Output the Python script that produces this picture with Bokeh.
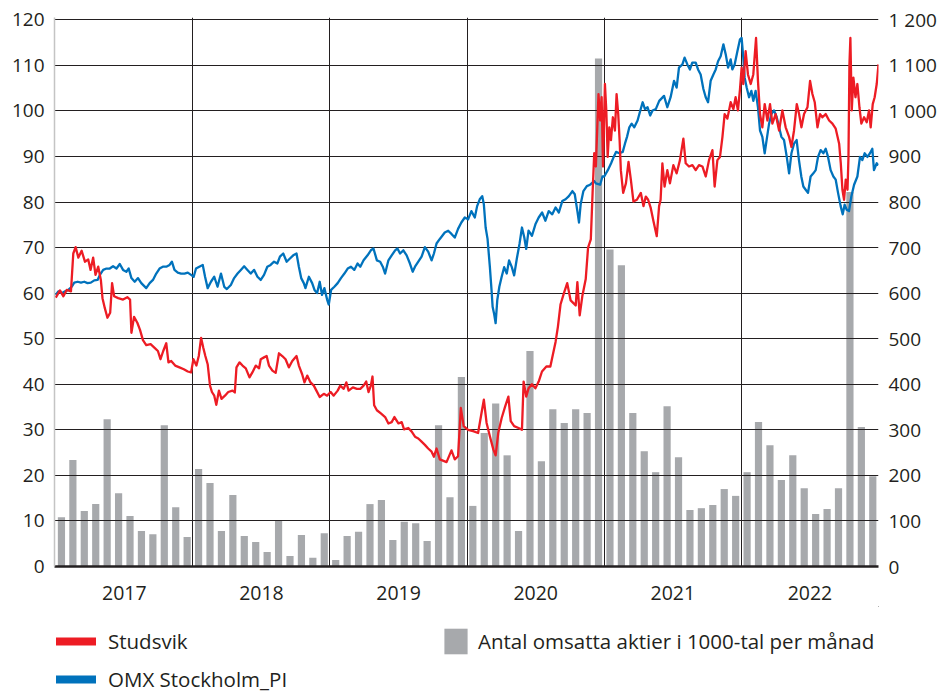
from bokeh.plotting import figure
from bokeh.layouts import column
from bokeh.models import Range1d, LinearAxis, FixedTicker, Legend, LegendItem
from bokeh.embed import file_html
from bokeh.resources import INLINE

# ---------------- data ----------------
years = [2017, 2018, 2019, 2020, 2021, 2022]

# monthly traded shares (thousands), Jan 2017 .. Dec 2022
volume_k = [
    108, 234, 122, 137, 323, 161, 111, 78, 71, 310, 130, 65,
    214, 183, 78, 157, 67, 54, 32, 100, 23, 69, 19, 73,
    14, 67, 76, 137, 146, 58, 98, 95, 56, 310, 152, 416,
    133, 293, 358, 244, 78, 473, 231, 345, 315, 345, 337, 1115,
    696, 661, 337, 253, 207, 352, 240, 124, 128, 135, 170, 155,
    207, 317, 266, 190, 244, 172, 115, 126, 172, 822, 306, 198,
]

# Studsvik (decimal year, index value)
studsvik_t = [
    2017.000, 2017.031, 2017.056, 2017.080, 2017.111, 2017.128, 2017.145, 2017.165, 2017.189, 2017.213,
    2017.237, 2017.254, 2017.273, 2017.290, 2017.310, 2017.329, 2017.341, 2017.358, 2017.377, 2017.397,
    2017.411, 2017.426, 2017.455, 2017.491, 2017.522, 2017.542, 2017.552, 2017.571, 2017.595, 2017.614,
    2017.636, 2017.660, 2017.692, 2017.721, 2017.745, 2017.764, 2017.784, 2017.806, 2017.822, 2017.842,
    2017.871, 2017.902, 2017.934, 2017.963, 2017.987, 2018.004, 2018.026, 2018.043, 2018.060, 2018.076,
    2018.091, 2018.108, 2018.125, 2018.139, 2018.156, 2018.171, 2018.190, 2018.209, 2018.234, 2018.258,
    2018.289, 2018.306, 2018.318, 2018.340, 2018.362, 2018.386, 2018.413, 2018.434, 2018.459, 2018.483,
    2018.495, 2018.519, 2018.538, 2018.555, 2018.580, 2018.604, 2018.628, 2018.652, 2018.676, 2018.700,
    2018.725, 2018.756, 2018.773, 2018.797, 2018.814, 2018.834, 2018.858, 2018.882, 2018.901, 2018.925,
    2018.955, 2018.979, 2019.005, 2019.027, 2019.056, 2019.075, 2019.100, 2019.119, 2019.136, 2019.167,
    2019.196, 2019.221, 2019.245, 2019.264, 2019.281, 2019.298, 2019.310, 2019.322, 2019.342, 2019.371,
    2019.402, 2019.426, 2019.450, 2019.470, 2019.499, 2019.523, 2019.540, 2019.571, 2019.596, 2019.620,
    2019.644, 2019.668, 2019.692, 2019.716, 2019.741, 2019.758, 2019.777, 2019.801, 2019.850, 2019.886,
    2019.910, 2019.934, 2019.954, 2019.975, 2020.007, 2020.044, 2020.080, 2020.105, 2020.122, 2020.142,
    2020.166, 2020.191, 2020.208, 2020.227, 2020.252, 2020.277, 2020.301, 2020.318, 2020.343, 2020.375,
    2020.400, 2020.412, 2020.431, 2020.448, 2020.473, 2020.498, 2020.522, 2020.546, 2020.578, 2020.607,
    2020.645, 2020.662, 2020.681, 2020.706, 2020.730, 2020.755, 2020.792, 2020.804, 2020.821, 2020.841,
    2020.865, 2020.882, 2020.902, 2020.915, 2020.927, 2020.939, 2020.951, 2020.958, 2020.970, 2020.981,
    2020.991, 2021.005, 2021.015, 2021.025, 2021.037, 2021.049, 2021.063, 2021.078, 2021.090, 2021.102,
    2021.112, 2021.121, 2021.138, 2021.158, 2021.177, 2021.194, 2021.213, 2021.238, 2021.267, 2021.286,
    2021.303, 2021.320, 2021.339, 2021.359, 2021.383, 2021.400, 2021.411, 2021.424, 2021.440, 2021.460,
    2021.479, 2021.504, 2021.528, 2021.552, 2021.577, 2021.594, 2021.618, 2021.643, 2021.667, 2021.691,
    2021.716, 2021.740, 2021.764, 2021.789, 2021.805, 2021.825, 2021.844, 2021.862, 2021.878, 2021.898,
    2021.922, 2021.942, 2021.958, 2021.975, 2021.990, 2022.002, 2022.014, 2022.031, 2022.048, 2022.068,
    2022.087, 2022.107, 2022.121, 2022.136, 2022.153, 2022.170, 2022.190, 2022.209, 2022.226, 2022.250,
    2022.275, 2022.299, 2022.323, 2022.348, 2022.365, 2022.384, 2022.404, 2022.421, 2022.438, 2022.457,
    2022.482, 2022.501, 2022.518, 2022.535, 2022.555, 2022.574, 2022.591, 2022.615, 2022.640, 2022.664,
    2022.688, 2022.713, 2022.725, 2022.737, 2022.749, 2022.761, 2022.774, 2022.781, 2022.788, 2022.795,
    2022.805, 2022.817, 2022.832, 2022.846, 2022.861, 2022.875, 2022.895, 2022.914, 2022.931, 2022.943,
    2022.958, 2022.972, 2022.987, 2023.000,
]
studsvik_v = [
    59.0, 60.6, 59.3, 60.7, 60.4, 68.7, 70.1, 67.8, 69.3, 66.9,
    67.4, 65.1, 67.8, 64.0, 65.8, 62.9, 58.9, 56.7, 54.6, 55.7,
    62.2, 59.3, 58.9, 58.6, 59.1, 58.6, 51.3, 54.8, 53.5, 52.0,
    49.7, 48.6, 48.8, 48.0, 47.3, 45.5, 47.3, 49.0, 44.8, 45.1,
    44.1, 43.7, 43.3, 42.8, 42.6, 45.5, 44.1, 46.2, 50.2, 48.0,
    46.2, 44.4, 39.7, 38.3, 37.5, 35.5, 38.6, 36.8, 37.5, 38.3,
    38.6, 38.2, 43.7, 44.8, 44.1, 43.5, 41.5, 42.6, 44.1, 43.5,
    45.5, 45.9, 46.2, 44.1, 43.0, 42.5, 46.8, 46.2, 45.5, 43.7,
    45.1, 46.2, 44.1, 42.2, 40.4, 41.9, 40.4, 39.7, 38.6, 37.2,
    37.9, 37.5, 38.3, 37.5, 38.6, 39.7, 39.0, 40.4, 38.6, 39.3,
    39.0, 39.0, 39.7, 40.6, 38.3, 39.7, 41.7, 35.4, 34.3, 33.6,
    32.8, 31.4, 31.7, 32.8, 31.4, 31.7, 30.1, 30.4, 29.6, 28.5,
    28.1, 27.4, 26.7, 25.9, 25.2, 24.1, 25.9, 23.5, 22.9, 25.5,
    23.5, 24.2, 34.8, 30.8, 30.0, 29.7, 29.3, 33.7, 36.6, 31.5,
    28.6, 25.7, 24.4, 29.3, 32.6, 35.1, 37.3, 31.9, 30.8, 30.4,
    30.0, 40.6, 37.3, 39.1, 40.0, 39.1, 40.6, 42.8, 43.9, 43.9,
    49.3, 52.6, 57.5, 60.0, 62.2, 58.4, 57.3, 62.4, 55.1, 59.5,
    63.1, 70.0, 71.8, 82.0, 90.7, 87.8, 97.9, 103.7, 97.9, 103.0,
    87.8, 105.9, 100.1, 89.9, 96.4, 93.6, 98.6, 95.7, 103.7, 99.3,
    93.6, 87.0, 82.0, 84.1, 88.8, 84.9, 80.1, 80.5, 82.0, 79.1,
    81.2, 80.5, 78.7, 75.8, 72.5, 79.1, 80.5, 88.5, 83.4, 87.0,
    84.1, 88.1, 86.3, 89.2, 93.9, 88.5, 87.8, 88.1, 87.0, 88.1,
    87.8, 85.6, 89.2, 91.4, 83.4, 89.2, 89.9, 94.3, 99.3, 98.3,
    101.9, 100.4, 103.0, 100.1, 104.8, 109.5, 105.9, 113.1, 108.0, 105.9,
    108.0, 116.0, 106.6, 99.3, 96.4, 101.5, 97.9, 101.5, 97.2, 99.3,
    95.7, 100.1, 96.4, 94.3, 92.1, 95.7, 101.5, 99.3, 96.4, 99.3,
    100.8, 106.6, 103.7, 101.9, 96.4, 99.3, 98.6, 99.3, 97.9, 97.2,
    96.1, 92.8, 88.5, 82.7, 80.5, 84.9, 82.7, 89.9, 110.2, 116.0,
    100.1, 107.3, 103.0, 105.9, 100.8, 97.2, 98.6, 97.5, 100.1, 96.4,
    101.5, 103.0, 105.9, 110.2,
]

# OMX Stockholm_PI (decimal year, index value)
omx_t = [
    2017.000, 2017.019, 2017.044, 2017.068, 2017.092, 2017.116, 2017.135, 2017.160, 2017.184, 2017.208,
    2017.232, 2017.256, 2017.281, 2017.305, 2017.322, 2017.346, 2017.370, 2017.394, 2017.418, 2017.443,
    2017.467, 2017.491, 2017.515, 2017.532, 2017.552, 2017.576, 2017.600, 2017.624, 2017.660, 2017.685,
    2017.709, 2017.733, 2017.757, 2017.781, 2017.806, 2017.830, 2017.847, 2017.866, 2017.890, 2017.914,
    2017.939, 2017.963, 2017.987, 2018.006, 2018.023, 2018.047, 2018.072, 2018.089, 2018.108, 2018.132,
    2018.156, 2018.180, 2018.205, 2018.229, 2018.248, 2018.277, 2018.301, 2018.326, 2018.350, 2018.374,
    2018.398, 2018.422, 2018.447, 2018.471, 2018.495, 2018.519, 2018.543, 2018.567, 2018.592, 2018.616,
    2018.635, 2018.659, 2018.684, 2018.708, 2018.732, 2018.756, 2018.773, 2018.790, 2018.809, 2018.821,
    2018.846, 2018.870, 2018.887, 2018.906, 2018.925, 2018.942, 2018.959, 2018.979, 2018.991, 2019.008,
    2019.032, 2019.056, 2019.080, 2019.105, 2019.129, 2019.153, 2019.177, 2019.201, 2019.221, 2019.245,
    2019.274, 2019.298, 2019.317, 2019.342, 2019.366, 2019.385, 2019.402, 2019.426, 2019.450, 2019.475,
    2019.492, 2019.511, 2019.535, 2019.559, 2019.583, 2019.603, 2019.620, 2019.644, 2019.668, 2019.692,
    2019.716, 2019.741, 2019.758, 2019.777, 2019.801, 2019.837, 2019.862, 2019.886, 2019.910, 2019.934,
    2019.958, 2019.983, 2020.007, 2020.031, 2020.056, 2020.073, 2020.092, 2020.110, 2020.122, 2020.135,
    2020.149, 2020.166, 2020.178, 2020.186, 2020.196, 2020.208, 2020.220, 2020.235, 2020.252, 2020.270,
    2020.289, 2020.306, 2020.326, 2020.343, 2020.362, 2020.382, 2020.400, 2020.417, 2020.431, 2020.448,
    2020.473, 2020.498, 2020.522, 2020.547, 2020.571, 2020.595, 2020.621, 2020.645, 2020.669, 2020.694,
    2020.718, 2020.742, 2020.768, 2020.785, 2020.804, 2020.816, 2020.828, 2020.848, 2020.873, 2020.897,
    2020.927, 2020.939, 2020.970, 2020.987, 2021.000, 2021.026, 2021.050, 2021.069, 2021.086, 2021.110,
    2021.135, 2021.151, 2021.166, 2021.183, 2021.200, 2021.219, 2021.243, 2021.263, 2021.280, 2021.297,
    2021.316, 2021.335, 2021.352, 2021.376, 2021.401, 2021.436, 2021.460, 2021.484, 2021.509, 2021.528,
    2021.545, 2021.570, 2021.586, 2021.606, 2021.625, 2021.642, 2021.667, 2021.684, 2021.703, 2021.723,
    2021.740, 2021.757, 2021.776, 2021.796, 2021.813, 2021.830, 2021.849, 2021.869, 2021.886, 2021.903,
    2021.922, 2021.934, 2021.951, 2021.971, 2021.990, 2022.002, 2022.014, 2022.024, 2022.039, 2022.056,
    2022.073, 2022.087, 2022.104, 2022.121, 2022.136, 2022.153, 2022.170, 2022.184, 2022.202, 2022.219,
    2022.238, 2022.258, 2022.275, 2022.292, 2022.311, 2022.331, 2022.348, 2022.365, 2022.384, 2022.403,
    2022.420, 2022.437, 2022.452, 2022.469, 2022.486, 2022.505, 2022.525, 2022.542, 2022.559, 2022.578,
    2022.598, 2022.615, 2022.632, 2022.651, 2022.671, 2022.688, 2022.705, 2022.724, 2022.739, 2022.753,
    2022.768, 2022.785, 2022.802, 2022.822, 2022.846, 2022.865, 2022.882, 2022.899, 2022.919, 2022.938,
    2022.955, 2022.967, 2022.987, 2023.000,
]
omx_v = [
    59.6, 60.4, 60.0, 60.4, 60.7, 61.4, 62.3, 62.5, 62.3, 62.5,
    62.2, 62.3, 62.8, 62.9, 64.0, 65.1, 65.4, 65.4, 65.9, 65.4,
    66.4, 65.1, 64.7, 65.4, 63.3, 62.5, 63.3, 62.2, 61.1, 62.2,
    62.9, 64.3, 65.4, 65.8, 65.8, 66.2, 66.9, 65.1, 64.5, 64.3,
    64.3, 64.5, 64.0, 63.6, 65.4, 65.8, 66.2, 63.6, 61.1, 62.5,
    63.6, 61.4, 64.3, 61.4, 60.9, 61.8, 63.3, 64.3, 65.1, 65.9,
    65.1, 64.3, 65.1, 63.6, 62.9, 64.0, 65.8, 66.2, 66.9, 66.5,
    68.0, 68.7, 66.9, 67.6, 68.3, 68.7, 65.8, 63.3, 62.2, 61.1,
    63.6, 62.2, 60.7, 60.0, 62.5, 59.6, 61.1, 58.6, 57.5, 60.7,
    61.4, 62.2, 63.3, 64.3, 65.4, 65.8, 65.1, 66.5, 65.8, 67.2,
    68.3, 69.4, 69.8, 67.2, 66.9, 65.8, 64.3, 67.2, 68.3, 69.4,
    69.8, 68.7, 69.4, 68.3, 66.5, 64.7, 65.8, 66.9, 68.0, 70.1,
    69.1, 67.2, 68.7, 70.9, 71.9, 73.3, 73.7, 73.0, 72.2, 74.1,
    75.5, 76.6, 76.2, 78.0, 76.6, 79.1, 80.6, 81.3, 79.5, 74.4,
    71.9, 65.7, 60.7, 57.0, 55.6, 53.4, 58.5, 61.4, 63.6, 65.7,
    64.3, 67.2, 65.7, 63.9, 67.5, 70.8, 74.4, 72.2, 69.7, 73.7,
    72.6, 75.1, 76.6, 77.7, 75.9, 78.0, 77.3, 78.8, 77.7, 80.2,
    80.6, 81.3, 82.4, 81.7, 78.0, 75.5, 79.5, 82.4, 83.5, 83.8,
    84.6, 84.1, 83.8, 85.6, 85.6, 87.0, 88.5, 89.9, 91.0, 90.7,
    91.0, 92.8, 94.3, 96.4, 97.2, 96.4, 97.9, 100.1, 101.9, 100.4,
    100.8, 99.0, 100.1, 100.4, 102.2, 103.3, 100.8, 103.0, 106.6, 105.1,
    109.5, 110.2, 111.7, 110.2, 109.1, 110.6, 110.6, 109.1, 108.0, 104.8,
    103.0, 101.9, 106.6, 108.0, 109.1, 110.9, 112.0, 114.6, 112.4, 109.5,
    111.3, 109.1, 110.2, 113.1, 115.7, 116.0, 111.7, 107.3, 105.1, 103.0,
    104.4, 102.2, 104.4, 100.8, 95.7, 94.3, 90.7, 93.6, 97.2, 99.3,
    100.1, 98.6, 96.4, 94.3, 93.6, 89.9, 86.3, 90.7, 92.8, 93.6,
    89.2, 85.6, 83.4, 82.7, 82.0, 85.6, 86.3, 87.0, 89.9, 91.4,
    90.7, 91.7, 89.9, 87.0, 85.6, 84.9, 82.0, 79.1, 77.3, 79.4,
    78.3, 78.0, 81.2, 83.8, 85.6, 89.9, 89.2, 90.7, 89.9, 90.7,
    91.7, 87.0, 88.5, 88.1,
]

left_ticks = list(range(0, 121, 10))
right_ticks = list(range(0, 1201, 100))
right_labels = {t: (f"{t // 1000} {t % 1000:03d}" if t >= 1000 else str(t)) for t in right_ticks}

RED = "#ed1c24"
BLUE = "#0072bc"
GREY = "#a7a9ac"
INK = "#231f20"
FONT = "Open Sans"

# month centres for the bars
bar_x = [y + (m - 0.5) / 12 for y in years for m in range(1, 13)]

p = figure(
    width=946, height=606,
    output_backend="svg", toolbar_location=None,
    x_range=Range1d(2016.991, 2023.0),
    y_range=Range1d(0, 120.5),
    min_border_left=54, min_border_right=68,
    min_border_top=17, min_border_bottom=40,
)
p.extra_y_ranges = {"vol": Range1d(0, 1205)}
p.outline_line_color = None

p.vbar(x=bar_x, top=volume_k, width=0.0525, y_range_name="vol",
       fill_color=GREY, line_color=None, level="image")

p.line(omx_t, omx_v, line_color=BLUE, line_width=2.3, line_join="round")
p.line(studsvik_t, studsvik_v, line_color=RED, line_width=2.3, line_join="round")

# grids
p.xgrid.ticker = FixedTicker(ticks=years[1:])
p.xgrid.grid_line_color = INK
p.xgrid.grid_line_width = 1
p.ygrid.ticker = FixedTicker(ticks=left_ticks[1:])
p.ygrid.grid_line_color = INK
p.ygrid.grid_line_width = 1


def style_axis(ax, standoff, size="19px"):
    ax.major_tick_line_color = None
    ax.minor_tick_line_color = None
    ax.major_tick_out = 0
    ax.major_tick_in = 0
    ax.minor_tick_out = 0
    ax.minor_tick_in = 0
    ax.major_label_standoff = standoff
    ax.major_label_text_font = FONT
    ax.major_label_text_font_size = size
    ax.major_label_text_color = INK


# left axis
ya = p.yaxis[0]
ya.ticker = FixedTicker(ticks=left_ticks)
ya.axis_line_color = "#c4c4c4"
ya.axis_line_width = 1.5
style_axis(ya, 10)

# right axis
ra = LinearAxis(y_range_name="vol", ticker=FixedTicker(ticks=right_ticks),
                major_label_overrides=right_labels)
ra.axis_line_color = None
style_axis(ra, 10)
p.add_layout(ra, "right")

# bottom axis (year labels centred in each year)
xa = p.xaxis[0]
mids = [y + 0.5 for y in years]
xa.ticker = FixedTicker(ticks=mids)
xa.major_label_overrides = {m: str(y) for m, y in zip(mids, years)}
xa.axis_line_color = INK
xa.axis_line_width = 2.5
style_axis(xa, 19, "19.5px")

# ---------------- legend strip (frame aligns with the chart frame) ----------------
lf = figure(width=946, height=87, output_backend="svg", toolbar_location=None,
            x_range=Range1d(2010, 2011), y_range=Range1d(-10, -9),
            x_axis_location=None, y_axis_location=None,
            min_border_left=54, min_border_right=68,
            min_border_top=0, min_border_bottom=0)
lf.outline_line_color = None
lf.grid.visible = False

# swatch renderers reuse the series (they fall outside this strip's ranges, so only
# their legend swatches are drawn)
sw_red = lf.line(studsvik_t, studsvik_v, line_color=RED, line_width=8, line_cap="round")
sw_blue = lf.line(omx_t, omx_v, line_color=BLUE, line_width=8, line_cap="round")
sw_bar = lf.vbar(x=bar_x, top=volume_k, bottom=1, width=0.05, fill_color=GREY, line_color=None)

LEG_FONT = "20.5px"
leg1 = Legend(items=[LegendItem(label="Studsvik", renderers=[sw_red]),
                     LegendItem(label="OMX Stockholm_PI", renderers=[sw_blue])],
              location=(2, 0), glyph_width=40, glyph_height=20, label_height=20,
              label_standoff=12, spacing=10, padding=0, margin=0,
              border_line_color=None, background_fill_alpha=0,
              label_text_font=FONT, label_text_font_size=LEG_FONT, label_text_color=INK)
leg2 = Legend(items=[LegendItem(label="Antal omsatta aktier i 1000-tal per månad", renderers=[sw_bar])],
              location=(387, 36), glyph_width=29, glyph_height=32, label_height=20,
              label_standoff=8, padding=0, margin=0,
              border_line_color=None, background_fill_alpha=0,
              label_text_font=FONT, label_text_font_size=LEG_FONT, label_text_color=INK)
lf.add_layout(leg1)
lf.add_layout(leg2)

layout = column(p, lf, spacing=0)
open("out.html", "w").write(file_html(layout, INLINE))
